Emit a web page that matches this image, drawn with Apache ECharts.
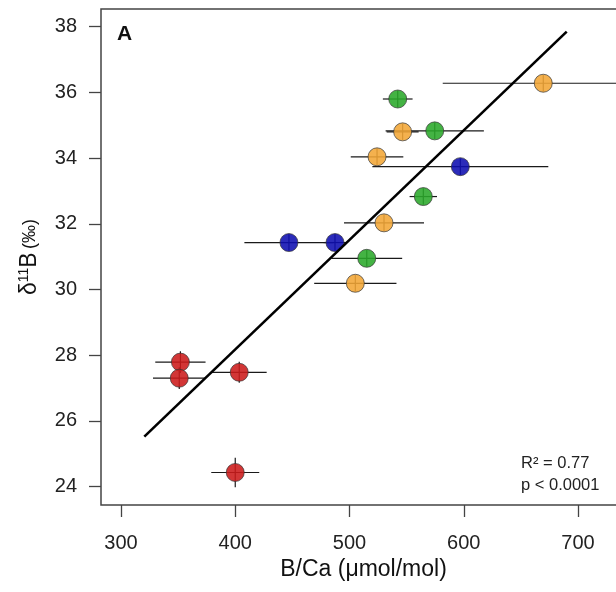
<!DOCTYPE html>
<html>
<head>
<meta charset="utf-8">
<script src="https://cdn.jsdelivr.net/npm/echarts@6/dist/echarts.min.js"></script>
<style>html,body{margin:0;padding:0;background:#fff;overflow:hidden;}#c{width:640px;height:592px;}</style>
</head>
<body>
<div id="c"></div>
<script>
// ---- data ----
const xTicks = [300, 400, 500, 600, 700];
const yTicks = [24, 26, 28, 30, 32, 34, 36, 38];

const redX = [352, 351, 403.5, 400];
const redY = [27.79, 27.30, 27.48, 24.43];
const redXErr = [22, 23, 24, 21];
const redYErr = [0.33, 0.33, 0.32, 0.45];

const blueX = [447, 487.3, 597];
const blueY = [31.43, 31.43, 33.74];
const blueXErr = [39, 10, 77];
const blueYErr = [0.25, 0.25, 0.25];

const greenX = [542.2, 574.6, 564.6, 515.1];
const greenY = [35.80, 34.83, 32.83, 30.95];
const greenXErr = [13, 43, 12, 31];
const greenYErr = [0.25, 0.25, 0.25, 0.25];

const orangeX = [669.6, 546.5, 524.1, 530.2, 505.1];
const orangeY = [36.28, 34.80, 34.04, 32.03, 30.19];
const orangeXErr = [88, 14, 23, 35, 36];
const orangeYErr = [0.25, 0.25, 0.25, 0.25, 0.25];

const fitX = [320.4, 690.1];
const fitY = [25.52, 37.85];

const statText = ['R\u00B2 = 0.77', 'p < 0.0001'];

// ---- build ----
const groups = [
  {x: redX, y: redY, xe: redXErr, ye: redYErr, color: '#CC1A1A'},
  {x: blueX, y: blueY, xe: blueXErr, ye: blueYErr, color: '#0E0EB0'},
  {x: greenX, y: greenY, xe: greenXErr, ye: greenYErr, color: '#2AA82A'},
  {x: orangeX, y: orangeY, xe: orangeXErr, ye: orangeYErr, color: '#F2A636'}
];

const errData = [];
groups.forEach(g => g.x.forEach((v, i) => errData.push([v, g.y[i], g.xe[i], g.ye[i]])));

const FONT = 'Liberation Sans, Arial, sans-serif';
const series = [];
series.push({
  type: 'custom',
  data: errData,
  z: 2,
  silent: true,
  renderItem: function (params, api) {
    const x = api.value(0), y = api.value(1), xe = api.value(2), ye = api.value(3);
    const a = api.coord([x - xe, y]), b = api.coord([x + xe, y]);
    const c = api.coord([x, y - ye]), d = api.coord([x, y + ye]);
    const st = {stroke: '#1a1a1a', lineWidth: 1.2};
    return {type: 'group', children: [
      {type: 'line', shape: {x1: a[0], y1: a[1], x2: b[0], y2: b[1]}, style: st},
      {type: 'line', shape: {x1: c[0], y1: c[1], x2: d[0], y2: d[1]}, style: st}
    ]};
  }
});
groups.forEach(g => {
  series.push({
    type: 'scatter',
    data: g.x.map((v, i) => [v, g.y[i]]),
    symbol: 'circle',
    symbolSize: 18,
    z: 3,
    itemStyle: {color: g.color, opacity: 0.88, borderColor: '#333', borderWidth: 0.8}
  });
});
series.push({
  type: 'line',
  data: fitX.map((v, i) => [v, fitY[i]]),
  showSymbol: false,
  z: 4,
  lineStyle: {color: '#000', width: 2.6}
});

const chart = echarts.init(document.getElementById('c'), null, {renderer: 'canvas'});
chart.setOption({
  animation: false,
  backgroundColor: '#fff',
  grid: {left: 101, top: 9, bottom: 87, right: 14, show: true, borderColor: '#444', borderWidth: 1.5},
  xAxis: {
    type: 'value', min: 282.5, max: 742,
    splitLine: {show: false},
    axisLine: {show: false},
    axisTick: {show: true, length: 12, customValues: xTicks, lineStyle: {color: '#444', width: 1.3}},
    axisLabel: {customValues: xTicks, margin: 28, fontSize: 20, color: '#222', fontFamily: FONT},
    name: 'B/Ca (\u03BCmol/mol)',
    nameLocation: 'middle',
    nameGap: 50,
    nameTextStyle: {fontSize: 23, color: '#111', fontFamily: FONT}
  },
  yAxis: {
    type: 'value', min: 23.44, max: 38.54,
    splitLine: {show: false},
    axisLine: {show: false},
    axisTick: {show: true, length: 12, customValues: yTicks, lineStyle: {color: '#444', width: 1.3}},
    axisLabel: {customValues: yTicks, margin: 24, fontSize: 20, color: '#222', fontFamily: FONT},
    name: '{a|\u03B4}{s|11}{a|B} {p|(\u2030)}',
    nameLocation: 'middle',
    nameRotate: 90,
    nameGap: 58,
    nameTextStyle: {
      fontFamily: FONT, color: '#111',
      rich: {
        a: {fontSize: 23, color: '#111', fontFamily: FONT},
        s: {fontSize: 14, color: '#111', verticalAlign: 'top', padding: [0, 0, 12, 0], fontFamily: FONT},
        p: {fontSize: 18, color: '#111', fontFamily: FONT}
      }
    }
  },
  graphic: [
    {type: 'text', left: 117, top: 24, style: {text: 'A', font: 'bold 21px ' + FONT, fill: '#111'}},
    {type: 'text', left: 521, top: 452, style: {text: statText.join('\n'), font: '16.5px ' + FONT, fill: '#222', lineHeight: 22}}
  ],
  series: series
});
</script>
</body>
</html>
